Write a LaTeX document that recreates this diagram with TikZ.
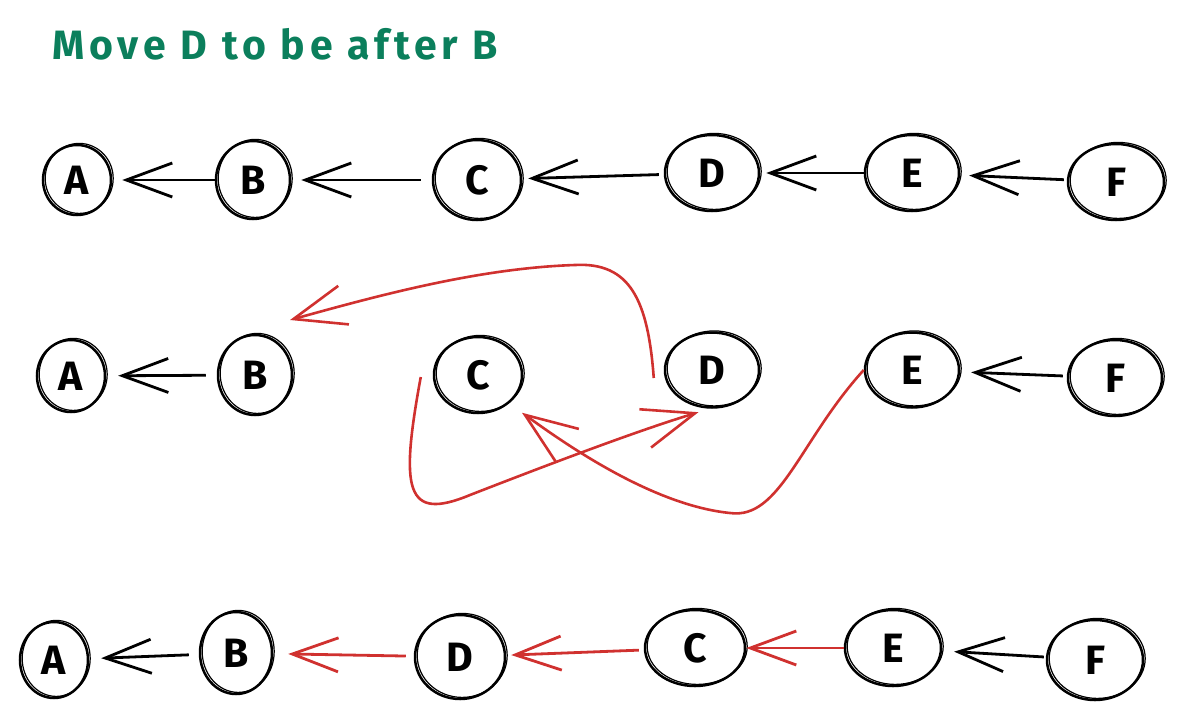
\documentclass[tikz,border=0pt]{standalone}
\usepackage{fontspec}
\setmainfont{Fira Sans}
\usetikzlibrary{arrows.meta,shapes.geometric}
\definecolor{ttl}{HTML}{0B7F5C}
\definecolor{rd}{HTML}{D0312F}
\begin{document}
\begin{tikzpicture}[x=1pt,y=-1pt,
  nd/.style 2 args={ellipse,draw,line width=2.5pt,inner sep=0pt,
    minimum width=#1pt,minimum height=#2pt,
    font=\fontsize{41}{44}\selectfont\bfseries,
    postaction={draw,line width=1.2pt,transform canvas={shift={(2.2pt,1.6pt)}}}},
  ar/.style={line width=2.8pt,-{Straight Barb[length=46pt,width=34pt,line width=2.8pt]}},
  rar/.style={ar,draw=rd},
  rcurve/.style={draw=rd,line width=2.6pt,-{Straight Barb[length=52pt,width=40pt,line width=2.6pt]}},
  ttlstyle/.style={text=ttl,font=\fontsize{41}{44}\selectfont\bfseries\addfontfeatures{LetterSpace=12},anchor=base west,inner sep=0pt}]
\useasboundingbox (0,0) rectangle (1183,715);

\node[ttlstyle] (title) at (52,59) {Move D to be after B};

% row 1
\node[nd={68}{70}] (A1) at (77,180) {A};
\node[nd={74}{78}] (B1) at (253,180) {B};
\node[nd={88}{80}] (C1) at (477,180) {C};
\node[nd={94}{76}] (D1) at (712,173) {D};
\node[nd={94}{76}] (E1) at (912,173) {E};
\node[nd={96}{76}] (F1) at (1116,182) {F};

\draw[ar,shorten >=10pt] (B1) -- (A1);
\draw[ar,shorten <=11pt,shorten >=10pt] (C1) -- (B1);
\draw[ar,shorten <=5pt,shorten >=6pt] (D1) -- (C1);
\draw[ar,shorten >=6pt] (E1) -- (D1);
\draw[ar,shorten <=3pt,shorten >=9pt] (F1) -- (E1);

% row 2
\node[nd={68}{72}] (A2) at (71,376) {A};
\node[nd={74}{80}] (B2) at (255,375) {B};
\node[nd={88}{76}] (C2) at (478,375) {C};
\node[nd={94}{75}] (D2) at (712,370) {D};
\node[nd={94}{75}] (E2) at (912,370) {E};
\node[nd={94}{76}] (F2) at (1115,378) {F};

\draw[ar,shorten <=11pt,shorten >=12pt] (B2) -- (A2);
\draw[ar,shorten <=4pt,shorten >=11pt] (F2) -- (E2);

\coordinate (T1) at (290,320);
\draw[rcurve] ([shift={(-10,8)}]D2.west) .. controls (648,300) and (630,262) .. (575,265)
   .. controls (480,268) and (380,295) .. (T1);
\draw[rcurve] ([shift={(-12,2)}]C2.west) .. controls (400,490) and (405,522) .. (470,495)
   .. controls (560,460) and (640,430) .. ([yshift=-5pt]D2.250);
\draw[rcurve] (E2.west) .. controls (800,440) and (780,520) .. (730,513)
   .. controls (650,505) and (560,440) .. ([shift={(12,10)}]C2.south east);

% row 3
\node[nd={68}{76}] (A3) at (54,660) {A};
\node[nd={72}{82}] (B3) at (236,653) {B};
\node[nd={90}{84}] (D3) at (460,657) {D};
\node[nd={100}{76}] (C3) at (695,648) {C};
\node[nd={96}{76}] (E3) at (893,648) {E};
\node[nd={96}{80}] (F3) at (1095,660) {F};

\draw[ar,shorten <=10pt,shorten >=12pt] (B3) -- (A3);
\draw[rar,shorten <=8pt,shorten >=15pt] (D3) -- (B3);
\draw[rar,shorten <=5pt,shorten >=5pt] (C3) -- (D3);
\draw[rar] (E3) -- (C3);
\draw[ar,shorten <=2pt,shorten >=12pt] (F3) -- (E3);
\end{tikzpicture}
\end{document}
